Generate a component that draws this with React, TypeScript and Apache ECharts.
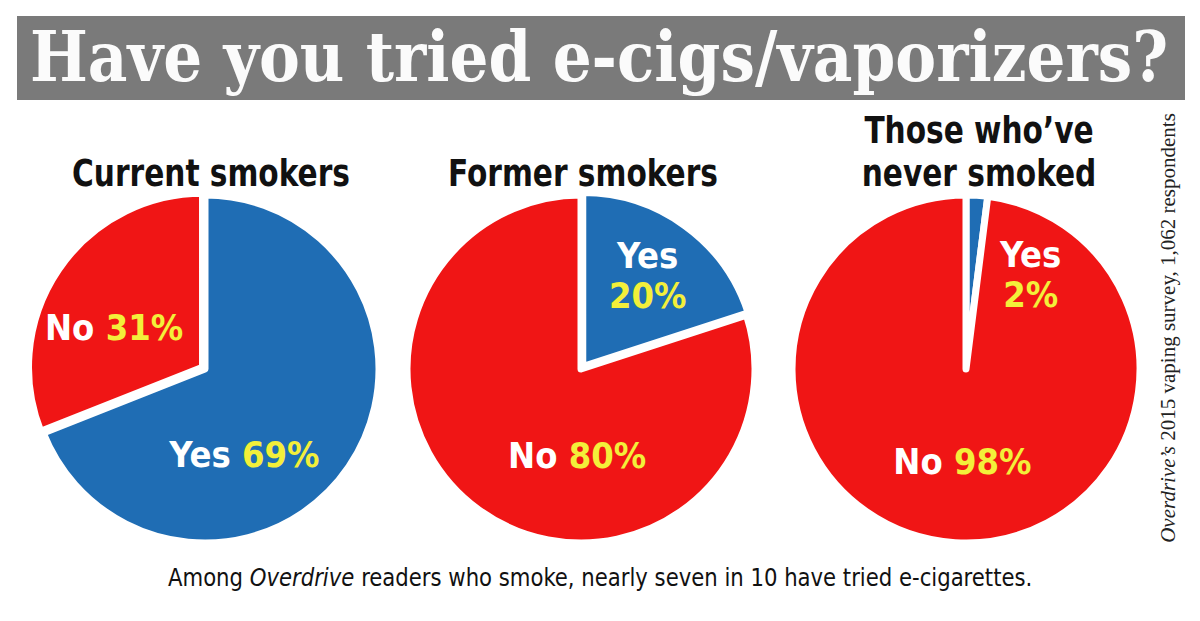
import React, { useEffect, useRef } from "react";
import * as echarts from "echarts";

const categories = ["Yes", "No"];
const groupTitles = ["Current smokers", "Former smokers", "Those who\u2019ve\nnever smoked"];
const yesValues = [69, 20, 2];
const noValues = [31, 80, 98];
const twoLineYes = [false, true, true];
const explodedIndex = [1, 0, -1];

const TITLE = "Have you tried e-cigs/vaporizers?";
const SOURCE_ITALIC = "Overdrive\u2019s";
const SOURCE_REST = " 2015 vaping survey, 1,062 respondents";
const CAPTION_A = "Among ";
const CAPTION_B = "Overdrive";
const CAPTION_C = " readers who smoke, nearly seven in 10 have tried e-cigarettes.";

const RED = "#f01515";
const BLUE = "#1f6db4";
const YELLOW = "#f3ef3a";
const SANS = "'Liberation Sans Narrow', 'DejaVu Sans Condensed', 'Roboto', sans-serif";
const SERIF_SLAB = "'DejaVu Serif', serif";

const centers = [[205, 369], [581, 369], [966, 369]];
const labelShift: number[][][] = [
  [[-35, 35], [-14, 11]],
  [[12, -18], [49, 14]],
  [[59, -5], [2, 3]],
];

function measure(font: string, text: string): number {
  const c = document.createElement("canvas").getContext("2d");
  if (!c) return text.length * 10;
  c.font = font;
  return c.measureText(text).width;
}

export default function App() {
  const ref = useRef<HTMLDivElement>(null);
  useEffect(() => {
    document.body.style.margin = "0";
    if (!ref.current) return;
    const chart = echarts.init(ref.current, null, { renderer: "svg" });

    const titleFont = `bold 70px ${SERIF_SLAB}`;
    const titleW = measure(titleFont, TITLE);
    const titleScale = 1138 / titleW;

    const capFont = `24px ${SANS}`;
    const capFontI = `italic 24px ${SANS}`;
    const capW = measure(capFont, CAPTION_A) + measure(capFontI, CAPTION_B) + measure(capFont, CAPTION_C);
    const capScale = 865 / capW;

    const subFont = `bold 38px ${SANS}`;
    const subScale = 278 / measure(subFont, groupTitles[0]);

    const series = yesValues.map((y, i) => ({
      type: "pie",
      center: centers[i],
      radius: 174,
      startAngle: 90,
      clockwise: true,
      silent: true,
      selectedMode: "multiple",
      selectedOffset: 3,
      itemStyle: { borderColor: "#ffffff", borderWidth: 7 },
      label: {
        show: true,
        position: "inside",
        fontFamily: SANS,
        fontWeight: "bold",
        fontSize: 36,
        lineHeight: 40,
        formatter: (p: any) =>
          p.dataIndex === 0 && twoLineYes[i]
            ? `{w|${p.name}}\n{y|${p.value}%}`
            : `{w|${p.name}} {y|${p.value}%}`,
        rich: {
          w: { color: "#ffffff", fontFamily: SANS, fontWeight: "bold", fontSize: 36, lineHeight: 40 },
          y: { color: YELLOW, fontFamily: SANS, fontWeight: "bold", fontSize: 36, lineHeight: 40 },
        },
      },
      labelLine: { show: false },
      labelLayout: (p: any) => ({ dx: labelShift[i][p.dataIndex][0], dy: labelShift[i][p.dataIndex][1] }),
      data: [
        { name: categories[0], value: y, selected: explodedIndex[i] === 0, itemStyle: { color: BLUE } },
        { name: categories[1], value: noValues[i], selected: explodedIndex[i] === 1, itemStyle: { color: RED } },
      ],
    }));

    const subtitleEls = groupTitles.map((t, i) => ({
      type: "text",
      x: centers[i][0] + (i === 0 ? 6 : i === 1 ? 2 : 13),
      y: 194,
      scaleX: subScale,
      style: {
        text: t,
        fill: "#111111",
        font: subFont,
        lineHeight: 43,
        align: "center",
        verticalAlign: "bottom",
      },
    }));

    chart.setOption({
      animation: false,
      backgroundColor: "#ffffff",
      graphic: [
        { type: "rect", shape: { x: 17, y: 16, width: 1168, height: 84 }, style: { fill: "#7a7a7a" } },
        {
          type: "text",
          x: 30,
          y: 57,
          scaleX: titleScale,
          style: { text: TITLE, fill: "#fbfbfb", font: titleFont, align: "left", verticalAlign: "middle" },
        },
        ...subtitleEls,
        {
          type: "text",
          x: 168,
          y: 578,
          scaleX: capScale,
          style: {
            text: `{n|${CAPTION_A}}{i|${CAPTION_B}}{n|${CAPTION_C}}`,
            align: "left",
            verticalAlign: "middle",
            rich: {
              n: { font: capFont, fill: "#111111" },
              i: { font: capFontI, fill: "#111111" },
            },
          },
        },
        {
          type: "text",
          x: 1168,
          y: 328,
          rotation: Math.PI / 2,
          style: {
            text: `{i|${SOURCE_ITALIC}}{n|${SOURCE_REST}}`,
            align: "center",
            verticalAlign: "middle",
            rich: {
              n: { font: `21px 'Liberation Serif', serif`, fill: "#222222" },
              i: { font: `italic 21px 'Liberation Serif', serif`, fill: "#222222" },
            },
          },
        },
      ],
      series,
    });
    return () => chart.dispose();
  }, []);
  return <div ref={ref} style={{ width: 1200, height: 621 }} />;
}
